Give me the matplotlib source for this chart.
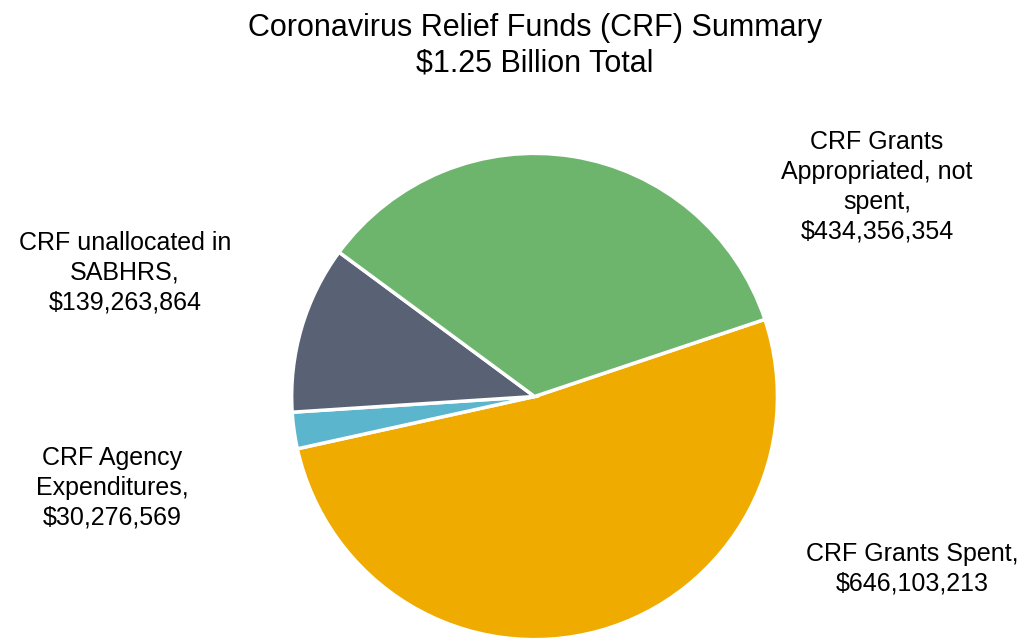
import matplotlib.pyplot as plt

plt.rcParams['font.family'] = ['Liberation Sans', 'DejaVu Sans']

labels = ['CRF Grants Spent,\n$646,103,213',
          'CRF Agency\nExpenditures,\n$30,276,569',
          'CRF unallocated in\nSABHRS,\n$139,263,864',
          'CRF Grants\nAppropriated, not\nspent,\n$434,356,354']
values = [646103213, 30276569, 139263864, 434356354]
colors = ['#F0AB00', '#5BB5CC', '#596275', '#6DB56D']

fig = plt.figure(figsize=(10.27, 6.39), dpi=100)
ax = fig.add_axes([0.284, -0.001, 0.473, 0.761])
ax.pie(values, colors=colors, startangle=18.5, counterclock=False,
       wedgeprops=dict(edgecolor='white', linewidth=2.5))
ax.set_xlim(-1, 1)
ax.set_ylim(-1, 1)
ax.set_aspect('auto')

# label positions in pixels (x, y from top)
label_pos = [(912, 569), (112, 488), (125, 273), (877, 187)]
for lab, (px, py) in zip(labels, label_pos):
    fig.text(px / 1027, 1 - py / 639, lab, ha='center', va='center',
             fontsize=18, color='#000000', linespacing=1.3)

fig.text(535 / 1027, 1 - 46 / 639,
         'Coronavirus Relief Funds (CRF) Summary\n$1.25 Billion Total',
         ha='center', va='center', fontsize=22, linespacing=1.25)

fig.savefig('out.png', dpi=100)
